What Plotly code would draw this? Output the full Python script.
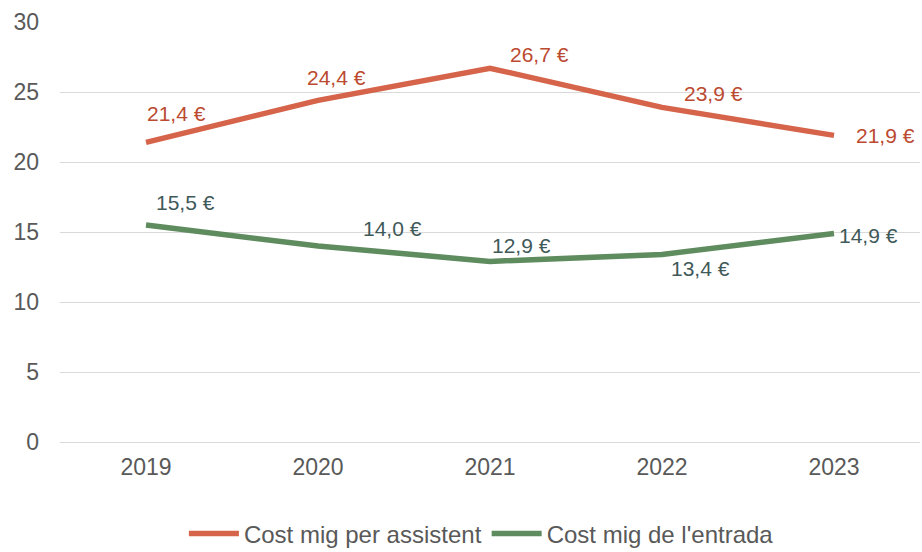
import plotly.graph_objects as go

years = ["2019", "2020", "2021", "2022", "2023"]
cost_assistent = [21.4, 24.4, 26.7, 23.9, 21.9]
cost_entrada = [15.5, 14.0, 12.9, 13.4, 14.9]
name_assistent = "Cost mig per assistent"
name_entrada = "Cost mig de l'entrada"

orange = "#D5644A"
green = "#5F8C5F"
orange_lbl = "#BB4A31"
green_lbl = "#3F5959"

fig = go.Figure()
fig.add_trace(go.Scatter(x=years, y=cost_assistent, mode="lines", name=name_assistent,
                         line=dict(color=orange, width=5.5)))
fig.add_trace(go.Scatter(x=years, y=cost_entrada, mode="lines", name=name_entrada,
                         line=dict(color=green, width=5.5)))

def fmt(v):
    return f"{v:.1f}".replace(".", ",") + " \u20ac"

off_a = [(30, 29), (18, 23), (49, 14), (51, 14), (51, 0)]
off_e = [(39, 23), (74, 18), (31, 16), (38, -14), (34, -2)]
annotations = []
for i, v in enumerate(cost_assistent):
    annotations.append(dict(x=i, y=v, xref="x", yref="y", text=fmt(v), showarrow=False,
                            xshift=off_a[i][0], yshift=off_a[i][1],
                            font=dict(color=orange_lbl, size=21)))
for i, v in enumerate(cost_entrada):
    annotations.append(dict(x=i, y=v, xref="x", yref="y", text=fmt(v), showarrow=False,
                            xshift=off_e[i][0], yshift=off_e[i][1],
                            font=dict(color=green_lbl, size=21)))

fig.update_layout(
    width=922, height=552,
    margin=dict(l=60, r=2, t=22, b=110, autoexpand=False),
    paper_bgcolor="white", plot_bgcolor="white",
    font=dict(family="Liberation Sans, Arial, sans-serif", color="#595959", size=23),
    showlegend=True,
    annotations=annotations,
    legend=dict(orientation="h", x=0.49, xanchor="center", yref="container", y=0.033,
                yanchor="middle", font=dict(size=24, color="#595959"), tracegroupgap=0,
                itemwidth=50),
    xaxis=dict(type="category", range=[-0.5, 4.5], showgrid=False, showline=False, ticks="",
               tickfont=dict(size=23, color="#595959"), ticklabelstandoff=9),
    yaxis=dict(range=[0, 30], dtick=5, showgrid=True, gridcolor="#D9D9D9", gridwidth=1.3,
               zeroline=True, zerolinecolor="#D9D9D9", zerolinewidth=1.3,
               showline=False, ticks="", ticklabelstandoff=20,
               tickfont=dict(size=23, color="#595959")),
)

fig.write_html("out.html", config={"displayModeBar": False},
               post_script="document.body.style.margin='0';document.body.style.padding='0';")
